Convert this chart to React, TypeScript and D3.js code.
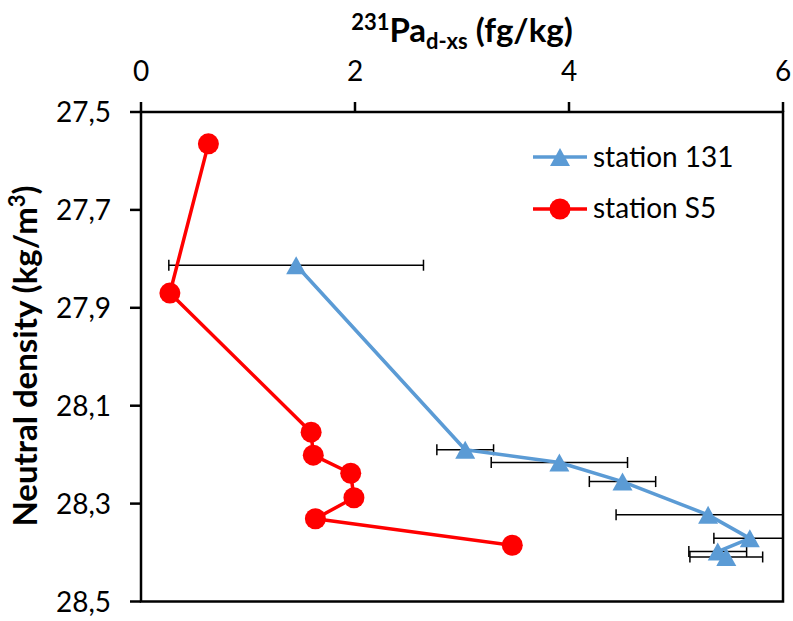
import React from "react";
import * as d3 from "d3";

const xTicks = [0, 2, 4, 6];
const yTicks = [27.5, 27.7, 27.9, 28.1, 28.3, 28.5];

const st131X = [1.45, 3.03, 3.91, 4.5, 5.3, 5.69, 5.39, 5.47];
const st131Y = [27.813, 28.19, 28.216, 28.255, 28.323, 28.371, 28.398, 28.409];
const st131Err = [1.19, 0.265, 0.637, 0.31, 0.86, 0.336, 0.27, 0.34];

const s5X = [0.63, 0.27, 1.59, 1.61, 1.96, 1.99, 1.63, 3.47];
const s5Y = [27.565, 27.87, 28.154, 28.201, 28.238, 28.288, 28.331, 28.385];

const seriesNames = ["station 131", "station S5"];

const W = 793;
const H = 621;
const M = { left: 141, right: 783, top: 112, bottom: 601.5 };
const BLUE = "#5B9BD5";
const RED = "#FF0000";
const FONT = "Lato, 'Open Sans', sans-serif";

export default function App() {
  const x = d3.scaleLinear().domain([0, 6]).range([M.left, M.right]);
  const y = d3.scaleLinear().domain([27.5, 28.5]).range([M.top, M.bottom]);
  const fmt = (v: number) => d3.format(".1f")(v).replace(".", ",");

  const blue = st131X.map((v, i) => ({ x: v, y: st131Y[i], e: st131Err[i] }));
  const red = s5X.map((v, i) => ({ x: v, y: s5Y[i] }));

  const line = d3
    .line<{ x: number; y: number }>()
    .x((d) => x(d.x))
    .y((d) => y(d.y));

  const tri = (cx: number, cy: number, w = 20, h = 18) =>
    `M${cx},${cy - h / 2}L${cx + w / 2},${cy + h / 2}L${cx - w / 2},${cy + h / 2}Z`;

  const capH = 11;

  return (
    <svg
      width={W}
      height={H}
      style={{ position: "absolute", left: 0, top: 0, background: "#fff" }}
      fontFamily={FONT}
    >
      <defs>
        <clipPath id="plotClip">
          <rect x={M.left} y={M.top - 20} width={M.right - M.left} height={M.bottom - M.top + 40} />
        </clipPath>
      </defs>

      {/* frame */}
      <rect
        x={M.left}
        y={M.top}
        width={M.right - M.left}
        height={M.bottom - M.top}
        fill="none"
        stroke="#000"
        strokeWidth={2.5}
      />

      {/* x ticks (top) */}
      {xTicks.map((t) => (
        <g key={"xt" + t}>
          <line x1={x(t)} x2={x(t)} y1={M.top} y2={M.top - 10} stroke="#000" strokeWidth={2.5} />
          <text x={x(t)} y={81} textAnchor="middle" fontSize={28} fill="#000">
            {t}
          </text>
        </g>
      ))}

      {/* y ticks */}
      {yTicks.map((t) => (
        <g key={"yt" + t}>
          <line x1={M.left} x2={M.left - 11} y1={y(t)} y2={y(t)} stroke="#000" strokeWidth={2.5} />
          <text x={111} y={y(t) + 10} textAnchor="end" fontSize={28} fill="#000">
            {fmt(t)}
          </text>
        </g>
      ))}

      {/* x title */}
      <text x={462} y={42} textAnchor="middle" fontSize={33} fontWeight="bold" fill="#000">
        <tspan fontSize={22} dy={-12}>231</tspan>
        <tspan dy={12}>Pa</tspan>
        <tspan fontSize={22} dy={7}>d-xs</tspan>
        <tspan dy={-7}> (fg/kg)</tspan>
      </text>

      {/* y title */}
      <text
        transform={`translate(37, ${356}) rotate(-90)`}
        textAnchor="middle"
        fontSize={33}
        fontWeight="bold"
        fill="#000"
      >
        Neutral density (kg/m
        <tspan fontSize={22} dy={-12}>3</tspan>
        <tspan dy={12}>)</tspan>
      </text>

      {/* error bars */}
      <g clipPath="url(#plotClip)" stroke="#000" strokeWidth={1.5}>
        {blue.map((d, i) => {
          const x1 = x(d.x - d.e);
          const x2 = x(d.x + d.e);
          const cy = y(d.y);
          return (
            <g key={"eb" + i}>
              <line x1={x1} x2={x2} y1={cy} y2={cy} />
              <line x1={x1} x2={x1} y1={cy - capH / 2} y2={cy + capH / 2} />
              <line x1={x2} x2={x2} y1={cy - capH / 2} y2={cy + capH / 2} />
            </g>
          );
        })}
      </g>

      {/* lines */}
      <path d={line(blue) || ""} fill="none" stroke={BLUE} strokeWidth={3.5} strokeLinejoin="round" />
      <path d={line(red) || ""} fill="none" stroke={RED} strokeWidth={3.5} strokeLinejoin="round" />

      {/* markers */}
      {blue.map((d, i) => (
        <path key={"bm" + i} d={tri(x(d.x), y(d.y))} fill={BLUE} />
      ))}
      {red.map((d, i) => (
        <circle key={"rm" + i} cx={x(d.x)} cy={y(d.y)} r={10.5} fill={RED} />
      ))}

      {/* legend */}
      <g>
        <line x1={533} x2={587} y1={157} y2={157} stroke={BLUE} strokeWidth={3.5} />
        <path d={tri(560, 157)} fill={BLUE} />
        <text x={593} y={167} fontSize={28} fill="#000">
          {seriesNames[0]}
        </text>
        <line x1={533} x2={587} y1={209} y2={209} stroke={RED} strokeWidth={3.5} />
        <circle cx={560} cy={209} r={10.5} fill={RED} />
        <text x={593} y={218} fontSize={28} fill="#000">
          {seriesNames[1]}
        </text>
      </g>
    </svg>
  );
}
